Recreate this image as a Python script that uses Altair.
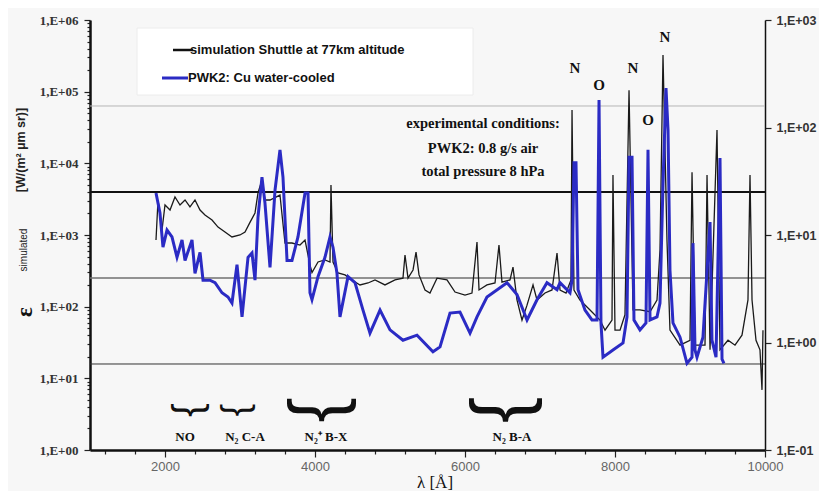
import altair as alt
import pandas as pd

# ---------------- data ----------------
# simulation Shuttle at 77 km (black, left axis)
sim_wl = [1880, 1907, 1960, 2000, 2067, 2133, 2200, 2267, 2333, 2400, 2467, 2533, 2627, 2707, 2800,
          2893, 3000, 3067, 3133, 3200, 3240, 3293, 3333, 3400, 3533, 3600, 3693, 3800, 3867, 3933,
          3960, 4040, 4133, 4200, 4213, 4240, 4307, 4400, 4493, 4600, 4707, 4800, 4933, 5067, 5173,
          5200, 5240, 5307, 5347, 5387, 5467, 5533, 5627, 5760, 5867, 6000, 6093, 6160, 6187, 6293,
          6400, 6453, 6493, 6600, 6640, 6693, 6760, 6827, 6907, 6960, 7067, 7160, 7227, 7267, 7347,
          7413, 7427, 7453, 7533, 7667, 7800, 7867, 7960, 7973, 8000, 8067, 8133, 8187, 8240, 8333,
          8467, 8560, 8600, 8640, 8693, 8733, 8867, 9000, 9027, 9067, 9200, 9227, 9267, 9360, 9400,
          9507, 9600, 9693, 9773, 9800, 9827, 9880, 9933, 9960, 9973]
sim_val = [851, 3080, 1175, 2620, 2230, 3390, 2620, 3080, 2460, 3080, 2230, 1900, 1620, 1290, 1100,
           938, 1000, 1100, 1500, 2030, 3860, 5850, 3080, 3080, 3610, 773, 773, 725, 851, 381,
           300, 420, 448, 420, 4990, 420, 295, 277, 236, 201, 214, 236, 201, 236, 250,
           526, 250, 325, 579, 277, 171, 155, 250, 236, 160, 145, 155, 798, 171, 201,
           214, 725, 220, 236, 357, 124, 65, 105, 201, 124, 155, 171, 561, 171, 155,
           236, 55500, 171, 124, 90, 65, 47, 65, 6870, 47, 47, 77, 105000, 90, 90,
           85, 124, 618, 325000, 851, 47, 29, 34, 7500, 29, 29, 6870, 25, 29200, 25,
           34, 29, 40, 124, 6870, 124, 34, 25, 6.9, 47]

# PWK2: Cu water-cooled (blue, right axis)
exp_wl = [1880, 1933, 1973, 2027, 2093, 2160, 2227, 2267, 2360, 2400, 2467, 2507, 2600, 2667, 2760,
          2840, 2893, 2960, 3027, 3107, 3160, 3200, 3240, 3293, 3333, 3400, 3467, 3533, 3573, 3627,
          3693, 3773, 3867, 3907, 3933, 3960, 4040, 4133, 4200, 4240, 4293, 4333, 4440, 4533, 4640,
          4733, 4867, 5000, 5173, 5360, 5573, 5667, 5800, 5933, 6067, 6160, 6293, 6560, 6693, 6827,
          6960, 7093, 7227, 7267, 7400, 7427, 7453, 7480, 7507, 7600, 7693, 7760, 7787, 7813, 7840,
          7973, 8107, 8160, 8187, 8227, 8253, 8333, 8413, 8440, 8467, 8560, 8600, 8640, 8680, 8707,
          8733, 8773, 8867, 8960, 9027, 9040, 9067, 9093, 9173, 9267, 9293, 9347, 9400, 9427, 9453]
exp_val = [24.6, 16.0, 7.7, 11.1, 9.6, 6.2, 9.0, 5.8, 9.0, 4.4, 6.9, 3.8, 3.8, 3.6, 2.9,
           2.65, 2.33, 5.3, 1.73, 6.2, 6.8, 3.8, 14.7, 34.6, 19.8, 5.0, 26.2, 62, 34.6, 5.8,
           5.8, 9.6, 24.6, 24.6, 2.9, 2.5, 4.1, 6.2, 9.6, 7.7, 4.4, 1.73, 4.1, 3.6, 2.0,
           1.22, 2.0, 1.31, 1.05, 1.17, 0.82, 0.91, 1.88, 1.92, 1.22, 1.73, 2.65, 3.6, 2.8, 1.62,
           2.5, 3.6, 3.1, 3.6, 2.9, 3.8, 47, 47, 3.1, 2.0, 1.62, 1.62, 180, 1.52, 0.73,
           0.85, 0.99, 1.73, 53, 53, 1.62, 1.31, 1.52, 62, 1.62, 1.73, 2.33, 30, 233, 95,
           4.7, 1.52, 1.12, 0.64, 0.73, 8.4, 0.85, 0.73, 1.12, 13.2, 1.05, 0.73, 52, 0.7, 0.64]

# horizontal reference lines (left-axis units)
ref_levels = [63096, 3981, 251, 15.85]

# atomic line labels
peak_labels = ["N", "O", "N", "O", "N"]
peak_wl = [7467, 7787, 8240, 8440, 8667]
peak_y = [214000, 124000, 214000, 40300, 579000]

# molecular band labels
band_labels = ["NO", "N\u2082 C-A", "N\u2082\u207a B-X", "N\u2082 B-A"]
band_wl = [2267, 3067, 4147, 6627]
brace_wl = [2347, 2987, 4133, 6573]

legend_labels = ["simulation Shuttle at 77km altitude", "PWK2: Cu water-cooled"]
cond_lines = ["experimental conditions:", "PWK2:  0.8 g/s air", "total pressure 8 hPa"]

x_major = [2000, 4000, 6000, 8000, 10000]
x_tick_values = list(range(1200, 10001, 400))
left_tick_values = [m * 10 ** e for e in range(6) for m in range(1, 10)] + [10 ** 6]
right_tick_values = [0.1, 1, 10, 100, 1000]

# ---------------- styles ----------------
SERIF = "Liberation Serif"
SANS = "Liberation Sans"
BLUE = "#2b2bc4"

x_scale = alt.Scale(domain=[1000, 10000], nice=False, zero=False)
left_scale = alt.Scale(type="log", domain=[1, 1e6], nice=False)
right_scale = alt.Scale(type="log", domain=[0.1, 1000], nice=False)

is_decade = "abs(log(datum.value)/LN10 - round(log(datum.value)/LN10)) < 0.001"

x_axis = alt.Axis(values=x_tick_values, format="d",
                  labelExpr="datum.value % 2000 == 0 ? datum.label : ''",
                  title=None, grid=False, domainColor="#111", domainWidth=2.5,
                  tickColor="#222", tickWidth=1.2,
                  tickSize={"condition": {"test": "datum.value % 2000 == 0", "value": 7}, "value": 4},
                  labelFont=SANS, labelFontSize=13, labelColor="#666", labelPadding=3,
                  labelFlush=False, labelOverlap=False)
left_axis = alt.Axis(values=left_tick_values,
                     labelExpr=f"{is_decade} ? '1,E+0' + round(log(datum.value)/LN10) : ''",
                     title=None, grid=False, domainColor="#111", domainWidth=2.5,
                     tickColor="#222", tickWidth=1.2,
                     tickSize={"condition": {"test": is_decade, "value": 6}, "value": 3},
                     labelFont=SERIF, labelFontWeight="bold", labelFontSize=13, labelColor="#333",
                     labelPadding=6, labelFlush=False, labelOverlap=False)
right_axis = alt.Axis(orient="right", values=right_tick_values,
                      labelExpr="datum.value < 0.5 ? '1,E-01' : '1,E+0' + round(log(datum.value)/LN10)",
                      title=None, grid=False, domainColor="#111", domainWidth=1.5,
                      tickColor="#222", tickWidth=1.2, tickSize=6,
                      labelFont=SANS, labelFontWeight="bold", labelFontSize=12.5, labelColor="#333",
                      labelPadding=5, labelFlush=False, labelOverlap=False)


def X(field):
    return alt.X(f"{field}:Q", scale=x_scale, axis=x_axis)


def YL(field):
    return alt.Y(f"{field}:Q", scale=left_scale, axis=left_axis)


sim_df = pd.DataFrame({"wl": sim_wl, "v": sim_val})
exp_df = pd.DataFrame({"wl": exp_wl, "v": exp_val})

left_layers = []

# legend box
left_layers.append(
    alt.Chart(pd.DataFrame({"a": [0]})).mark_rect(fill="white", stroke="#ececec", strokeWidth=1).encode(
        x=alt.value(47), x2=alt.value(383), y=alt.value(8), y2=alt.value(75))
)

# reference lines
ref_styles = [("#b5b5b5", 1.0), ("#111111", 2.2), ("#707070", 1.6), ("#333333", 1.0)]
for lvl, (col, w) in zip(ref_levels, ref_styles):
    left_layers.append(
        alt.Chart(pd.DataFrame({"v": [lvl]})).mark_rule(color=col, strokeWidth=w).encode(y=YL("v"))
    )

# simulated spectrum
left_layers.append(
    alt.Chart(sim_df).mark_line(color="#1a1a1a", strokeWidth=1.3, interpolate="linear").encode(
        x=X("wl"), y=YL("v"))
)

# legend samples and labels
left_layers.append(alt.Chart(pd.DataFrame({"a": [0]})).mark_rule(color="#111", strokeWidth=2.5).encode(
    x=alt.value(83), x2=alt.value(103), y=alt.value(30)))
left_layers.append(alt.Chart(pd.DataFrame({"a": [0]})).mark_rule(color=BLUE, strokeWidth=3).encode(
    x=alt.value(72), x2=alt.value(98), y=alt.value(58)))
for lab, px, py in zip(legend_labels, [100, 98], [30, 58]):
    left_layers.append(
        alt.Chart(pd.DataFrame({"t": [lab]})).mark_text(
            align="left", baseline="middle", font=SANS, fontWeight="bold", fontSize=13, color="#111"
        ).encode(x=alt.value(px), y=alt.value(py), text="t:N")
    )

# experimental conditions
for lab, py in zip(cond_lines, [104, 129, 152]):
    left_layers.append(
        alt.Chart(pd.DataFrame({"t": [lab]})).mark_text(
            align="center", baseline="middle", font=SERIF, fontWeight="bold", fontSize=14.5, color="#111"
        ).encode(x=alt.value(393), y=alt.value(py), text="t:N")
    )

# peak labels
left_layers.append(
    alt.Chart(pd.DataFrame({"wl": peak_wl, "v": peak_y, "t": peak_labels})).mark_text(
        align="center", baseline="middle", font=SERIF, fontWeight="bold", fontSize=15, color="#111"
    ).encode(x=X("wl"), y=YL("v"), text="t:N")
)

# band braces and labels
brace_sizes = [41, 37, 75, 78]
for wl, fs in zip(brace_wl, brace_sizes):
    left_layers.append(
        alt.Chart(pd.DataFrame({"wl": [wl], "v": [3.6], "t": ["}"]})).mark_text(
            align="center", baseline="middle", font=SANS, fontSize=fs, angle=90, color="#111"
        ).encode(x=X("wl"), y=YL("v"), text="t:N")
    )
left_layers.append(
    alt.Chart(pd.DataFrame({"wl": band_wl, "v": [1.52] * len(band_wl), "t": band_labels})).mark_text(
        align="center", baseline="middle", font=SERIF, fontWeight="bold", fontSize=13, color="#111"
    ).encode(x=X("wl"), y=YL("v"), text="t:N")
)

# left axis title pieces
left_layers.append(alt.Chart(pd.DataFrame({"t": ["\u03b5"]})).mark_text(
    align="center", baseline="middle", font=SERIF, fontWeight="bold", fontSize=23, angle=270, color="#111"
).encode(x=alt.value(-65), y=alt.value(292), text="t:N"))
left_layers.append(alt.Chart(pd.DataFrame({"t": ["simulated"]})).mark_text(
    align="center", baseline="middle", font=SANS, fontSize=10, angle=270, color="#222"
).encode(x=alt.value(-66), y=alt.value(230), text="t:N"))
left_layers.append(alt.Chart(pd.DataFrame({"t": ["[W/(m\u00b2 \u00b5m sr)]"]})).mark_text(
    align="center", baseline="middle", font=SANS, fontWeight="bold", fontSize=12.5, angle=270, color="#222"
).encode(x=alt.value(-69), y=alt.value(130), text="t:N"))

# x axis title
left_layers.append(alt.Chart(pd.DataFrame({"t": ["\u03bb  [\u00c5]"]})).mark_text(
    align="center", baseline="middle", font=SERIF, fontSize=17, color="#111"
).encode(x=alt.value(345), y=alt.value(463), text="t:N"))

left_layer = alt.layer(*left_layers)

right_layer = alt.Chart(exp_df).mark_line(color=BLUE, strokeWidth=3, interpolate="linear").encode(
    x=X("wl"), y=alt.Y("v:Q", scale=right_scale, axis=right_axis))

chart = alt.layer(left_layer, right_layer).resolve_scale(y="independent").properties(
    width=675, height=430,
    autosize=alt.AutoSizeParams(type="none"),
    padding={"left": 82, "top": 12, "right": 54, "bottom": 41},
    background="#f7f7f7",
).configure_view(stroke=None)

chart.save("out.html", embed_options={"renderer": "svg", "actions": False})
